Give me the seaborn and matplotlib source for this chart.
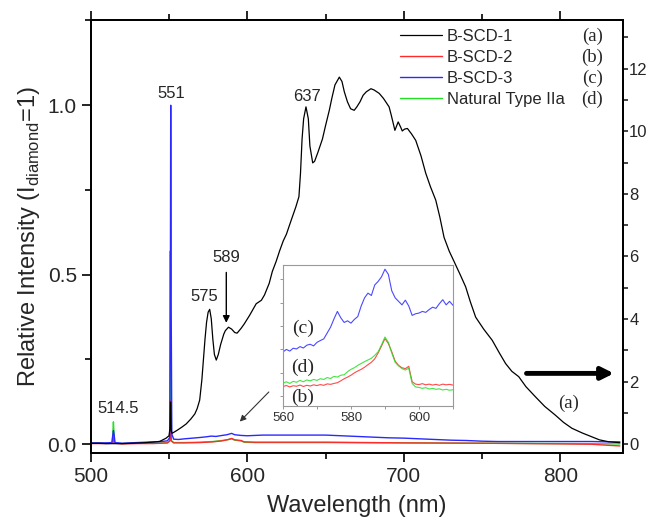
import matplotlib
matplotlib.use("Agg")
import matplotlib.pyplot as plt
from matplotlib.ticker import MultipleLocator
import seaborn as sns

# %%
# B-SCD-1 (a), read on the right axis
wl_a = [500, 505, 510, 520, 525, 530, 535, 540, 544, 548, 550, 550.7, 551, 551.4, 552, 555,
        558, 561, 564, 566.5, 568, 569.6, 571, 572, 573, 574, 575, 576, 577, 578, 579, 580.2,
        581.5, 583, 585, 586, 588, 590, 592, 593.5, 596, 598, 601.5, 605.7, 609, 611, 614,
        616, 618.5, 620.6, 623, 625, 628, 631, 633, 634, 635, 636, 637.5, 639, 640, 641.8,
        643, 645, 648, 650, 652.4, 654, 656, 658.8, 660.5, 662, 664, 666, 668.3, 670, 672,
        674, 676, 679, 681, 684.3, 687, 690.6, 692, 694.3, 696.4, 698, 699, 700.5, 702.3,
        705, 707.6, 711, 714, 717, 720.4, 723, 725.7, 729, 732, 736, 739.5, 742.5, 745.9,
        751, 756.5, 761, 765, 769, 773.4, 778, 784, 790, 796.8, 802, 807.4, 814, 820, 825,
        830.8, 838]
int_a = [0.03, 0.03, 0.02, 0.02, 0.03, 0.04, 0.05, 0.07, 0.09, 0.19, 0.27, 0.54, 1.35, 0.43,
         0.35, 0.44, 0.54, 0.65, 0.81, 0.97, 1.14, 1.41, 2.06, 2.71, 3.36, 3.90, 4.22, 4.31,
         4.01, 3.36, 2.87, 2.69, 2.87, 3.19, 3.52, 3.63, 3.74, 3.68, 3.57, 3.55, 3.70, 3.84,
         4.12, 4.49, 4.60, 4.77, 5.14, 5.52, 5.85, 6.17, 6.50, 6.71, 7.15, 7.58, 7.91, 8.66,
         9.75, 10.40, 10.78, 10.40, 9.53, 8.99, 9.04, 9.31, 9.75, 10.18, 10.67, 11.05, 11.48,
         11.73, 11.59, 11.26, 10.94, 10.72, 10.67, 10.78, 10.94, 11.15, 11.26, 11.36, 11.32,
         11.21, 11.05, 10.78, 10.51, 10.03, 10.30, 10.13, 10.01, 10.07, 10.09, 9.91, 9.71,
         9.21, 8.66, 8.23, 7.80, 7.26, 6.61, 6.17, 5.85, 5.42, 5.03, 4.55, 4.06, 3.68, 3.32,
         2.92, 2.58, 2.33, 2.16, 1.84, 1.52, 1.21, 0.93, 0.70, 0.51, 0.36, 0.24, 0.14, 0.08,
         0.05]

# B-SCD-2 (b)
wl_b = [500, 510, 514, 514.5, 515, 520, 530, 540, 545, 549, 550.6, 551, 551.4, 553, 560, 570,
        578, 584, 588, 590, 592, 596, 598, 605, 620, 650, 700, 750, 800, 820, 830, 838]
int_b = [0.002, 0.002, 0.003, 0.02, 0.003, 0.001, 0.002, 0.002, 0.003, 0.004, 0.01, 0.13,
         0.01, 0.004, 0.004, 0.005, 0.007, 0.01, 0.014, 0.017, 0.013, 0.011, 0.007, 0.006,
         0.006, 0.006, 0.004, 0.003, 0.001, 0.0, -0.003, -0.005]

# B-SCD-3 (c)
wl_c = [500, 505, 510, 513.5, 514.2, 514.5, 514.9, 515.5, 520, 525, 530, 535, 540, 545, 549,
        550.5, 550.9, 551.1, 551.4, 551.8, 553, 556, 560, 565, 570, 574, 577, 580, 584, 587,
        590, 592, 596, 600, 610, 620, 630, 640, 650, 660, 670, 680, 690, 700, 710, 720, 730,
        740, 750, 760, 770, 780, 790, 800, 810, 820, 830, 838]
int_c = [0.004, 0.004, 0.004, 0.005, 0.03, 0.04, 0.03, 0.005, 0.003, 0.004, 0.005, 0.006,
         0.007, 0.008, 0.01, 0.02, 0.5, 1.0, 0.4, 0.03, 0.015, 0.014, 0.016, 0.018, 0.02,
         0.022, 0.024, 0.023, 0.026, 0.028, 0.032, 0.028, 0.026, 0.025, 0.027, 0.027, 0.027,
         0.027, 0.027, 0.025, 0.023, 0.021, 0.019, 0.018, 0.016, 0.014, 0.012, 0.011, 0.009,
         0.008, 0.008, 0.008, 0.008, 0.008, 0.008, 0.008, 0.007, 0.007]

# Natural Type IIa (d)
wl_d = [500, 510, 513.8, 514.2, 514.5, 514.8, 515.2, 520, 530, 540, 549, 550.5, 550.8, 551.2,
        551.6, 553, 560, 570, 578, 584, 588, 590, 592, 596, 598, 605, 650, 700, 750, 800, 838]
int_d = [0.003, 0.003, 0.004, 0.04, 0.066, 0.04, 0.004, 0.002, 0.003, 0.003, 0.004, 0.01,
         0.57, 0.2, 0.01, 0.005, 0.005, 0.006, 0.008, 0.011, 0.014, 0.016, 0.012, 0.01,
         0.006, 0.005, 0.005, 0.004, 0.003, 0.002, 0.001]

# inset, 560-610 nm, arbitrary offsets
wl_in = list(range(560, 611))
in_c = [1.89, 2.00, 1.93, 2.05, 2.02, 2.12, 2.06, 2.18, 2.22, 2.15, 2.30, 2.38, 2.45, 2.70,
        2.95, 3.30, 3.62, 3.35, 3.15, 3.22, 3.12, 3.28, 3.40, 3.85, 4.20, 4.40, 4.30, 4.75,
        4.90, 5.10, 5.42, 5.20, 4.50, 4.20, 4.05, 3.90, 4.10, 3.85, 3.45, 3.52, 3.55, 3.62,
        3.58, 3.70, 3.80, 3.75, 3.95, 4.12, 3.90, 4.05, 3.88]
in_d = [0.56, 0.62, 0.55, 0.64, 0.60, 0.68, 0.62, 0.70, 0.66, 0.72, 0.68, 0.75, 0.72, 0.80,
        0.76, 0.85, 0.82, 0.90, 0.92, 1.05, 1.15, 1.22, 1.32, 1.40, 1.48, 1.55, 1.62, 1.75,
        1.90, 2.20, 2.53, 2.30, 1.85, 1.45, 1.30, 1.18, 1.12, 1.20, 0.55, 0.40, 0.38, 0.34,
        0.37, 0.31, 0.34, 0.30, 0.32, 0.27, 0.30, 0.26, 0.28]
in_b = [0.42, 0.46, 0.40, 0.45, 0.43, 0.48, 0.42, 0.47, 0.44, 0.49, 0.46, 0.50, 0.47, 0.53,
        0.51, 0.55, 0.58, 0.66, 0.75, 0.82, 0.90, 1.00, 1.08, 1.15, 1.24, 1.35, 1.45, 1.60,
        1.85, 2.15, 2.46, 2.25, 1.90, 1.50, 1.32, 1.22, 1.18, 1.28, 0.62, 0.52, 0.50, 0.54,
        0.49, 0.52, 0.48, 0.51, 0.47, 0.52, 0.49, 0.51, 0.48]

names = ["B-SCD-1", "B-SCD-2", "B-SCD-3", "Natural Type IIa"]
tags = ["(a)", "(b)", "(c)", "(d)"]
colors = ["black", "#ff2a2a", "#2a2aff", "#22e022"]

# %%
sns.set_style("ticks")
plt.rcParams["font.family"] = ["Liberation Sans", "DejaVu Sans"]
plt.rcParams["mathtext.fontset"] = "custom"
plt.rcParams["mathtext.rm"] = "Liberation Sans"
SERIF = ["Liberation Serif", "DejaVu Serif"]

fig = plt.figure(figsize=(6.48, 5.2), dpi=100)
ax = fig.add_axes([0.14, 0.1294, 0.8214, 0.8312])
ax2 = ax.twinx()

sns.lineplot(x=wl_d, y=int_d, ax=ax, color=colors[3], lw=1, label=names[3], legend=False)
sns.lineplot(x=wl_b, y=int_b, ax=ax, color=colors[1], lw=1, label=names[1], legend=False)
sns.lineplot(x=wl_c, y=int_c, ax=ax, color=colors[2], lw=1, label=names[2], legend=False)
sns.lineplot(x=wl_a, y=int_a, ax=ax2, color=colors[0], lw=0.9, label=names[0], legend=False)

ax.set_xlim(500, 840)
ax.set_ylim(-0.025, 1.25)
ax2.set_ylim(-0.27, 13.54)

ax.xaxis.set_major_locator(MultipleLocator(100))
ax.xaxis.set_minor_locator(MultipleLocator(50))
ax.yaxis.set_major_locator(MultipleLocator(0.5))
ax.yaxis.set_minor_locator(MultipleLocator(0.25))
ax2.yaxis.set_major_locator(MultipleLocator(2))
ax2.yaxis.set_minor_locator(MultipleLocator(1))

ax.tick_params(which="both", direction="out", top=True, width=1.2, labelsize=15, color="black")
ax.tick_params(which="major", length=6.5)
ax.tick_params(which="minor", length=4.5)
ax2.tick_params(which="both", direction="out", width=1.2, labelsize=12, length=3.5, pad=1)
for a in (ax, ax2):
    for s in a.spines.values():
        s.set_visible(True)
        s.set_linewidth(1.3)
        s.set_color("black")

ax.set_xlabel("Wavelength (nm)", fontsize=17, labelpad=7)
ax.set_ylabel(r"Relative Intensity (I$_{\mathregular{diamond}}$=1)", fontsize=17, labelpad=4)
ax2.set_ylabel("")

# peak labels
ax.text(551.5, 1.035, "551", ha="center", va="center", fontsize=12)
ax.text(638, 1.025, "637", ha="center", va="center", fontsize=12)
ax.text(572.5, 0.437, "575", ha="center", va="center", fontsize=12)
ax.text(586.6, 0.55, "589", ha="center", va="center", fontsize=12)
ax.text(517.4, 0.106, "514.5", ha="center", va="center", fontsize=12)
ax.annotate("", xy=(586.6, 0.35), xytext=(586.6, 0.515),
            arrowprops=dict(arrowstyle="-|>", color="black", lw=1, mutation_scale=10))
ax.annotate("", xy=(594, 0.061), xytext=(615, 0.16),
            arrowprops=dict(arrowstyle="-|>", color="#333333", lw=0.8, mutation_scale=9))
ax.annotate("", xy=(836, 0.209), xytext=(776.6, 0.209),
            arrowprops=dict(arrowstyle="-|>", color="black", lw=3.5, mutation_scale=18))
ax.text(805, 0.12, "(a)", ha="center", va="center", fontsize=13.5, family=SERIF)

# legend
handles = ax2.get_lines()[:1] + [ax.get_lines()[1], ax.get_lines()[2], ax.get_lines()[0]]
leg = ax2.legend(handles, names, loc="upper left", bbox_to_anchor=(0.581, 0.981),
                 frameon=False, fontsize=12, handlelength=2.5, handletextpad=0.3,
                 labelspacing=0.36, borderpad=0, borderaxespad=0)
fig.canvas.draw()
for txt, tag in zip(leg.get_texts(), tags):
    bb = txt.get_window_extent().transformed(ax2.transAxes.inverted())
    ax2.text(0.942, (bb.y0 + bb.y1) / 2, tag, transform=ax2.transAxes, ha="center",
             va="center", fontsize=13.5, family=SERIF)

# inset
axi = fig.add_axes([0.4367, 0.2198, 0.2623, 0.2706])
sns.lineplot(x=wl_in, y=in_c, ax=axi, color=colors[2], lw=0.8, alpha=0.85, legend=False)
sns.lineplot(x=wl_in, y=in_b, ax=axi, color=colors[1], lw=0.8, alpha=0.85, legend=False)
sns.lineplot(x=wl_in, y=in_d, ax=axi, color=colors[3], lw=0.8, alpha=0.85, legend=False)
axi.set_xlim(560, 610)
axi.set_ylim(-0.4, 5.6)
axi.xaxis.set_major_locator(MultipleLocator(20))
axi.xaxis.set_minor_locator(MultipleLocator(10))
axi.yaxis.set_major_locator(MultipleLocator(1))
axi.set_yticklabels([])
axi.tick_params(which="both", direction="out", length=2.5, width=0.6, color="#888888",
                labelsize=9.5, labelcolor="#333333", pad=2)
axi.set_xlabel("")
axi.set_ylabel("")
for s in axi.spines.values():
    s.set_visible(True)
    s.set_color("#999999")
    s.set_linewidth(0.8)
axi.text(565.8, 2.9, "(c)", ha="center", va="center", fontsize=14, family=SERIF)
axi.text(565.8, 1.23, "(d)", ha="center", va="center", fontsize=14, family=SERIF)
axi.text(565.8, -0.06, "(b)", ha="center", va="center", fontsize=14, family=SERIF)

fig.savefig("out.png", dpi=100)
